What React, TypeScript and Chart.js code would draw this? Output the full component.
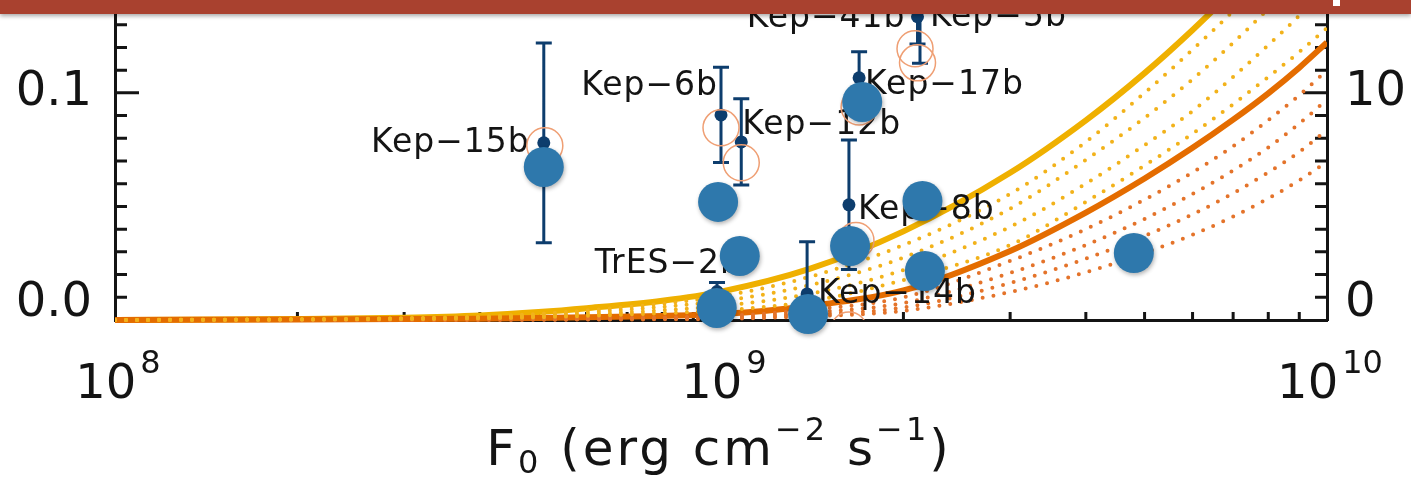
import React, { useEffect, useRef } from 'react';
import { Chart, registerables } from 'chart.js';

Chart.register(...registerables);

const FONT = '"DejaVu Sans", "Liberation Sans", sans-serif';
const INK = '#141414';
const NAVY = '#0d3d6d';
const BLUE = '#2e78ac';
const RING = '#ef9f74';
const YELLOW = '#efb000';
const YELLOW_DOT = '#f2b21a';
const ORANGE = '#e46c00';
const ORANGE_DOT = '#e4732a';

// ---- measured planets (navy points with error bars) ----
const PLANET_NAMES = ['Kep−15b', 'Kep−6b', 'Kep−12b', 'Kep−17b', 'Kep−41b', 'Kep−5b', 'Kep−8b', 'TrES−2b', 'Kep−14b'];
const PLANET_FLUX = [5.1e8, 1.0e9, 1.08e9, 1.69e9, 2.11e9, 2.13e9, 1.626e9, 0.985e9, 1.387e9];
const PLANET_AG = [0.078, 0.0903, 0.0784, 0.1066, 0.1335, 0.139, 0.0507, 0.0125, 0.0115];
const PLANET_ERR = [0.044, 0.021, 0.019, 0.0115, 0.012, 0.026, 0.0285, 0.004, 0.023];

// ---- model values (open orange rings) ----
const MODEL_FLUX = [5.12e8, 1.0e9, 1.08e9, 1.69e9, 2.09e9, 2.11e9, 1.67e9, 1.626e9];
const MODEL_AG = [0.0767, 0.0846, 0.0692, 0.0938, 0.1194, 0.1132, 0.035, -0.0044];

// ---- big blue points ----
const FIT_FLUX = [5.1e8, 9.89e8, 1.074e9, 1.71e9, 1.633e9, 0.984e9, 1.392e9, 2.15e9, 2.17e9, 4.8e9];
const FIT_AG = [0.0674, 0.052, 0.0282, 0.096, 0.0326, 0.0053, 0.0026, 0.0524, 0.0216, 0.0295];

// ---- model curves ----
const CURVE_FLUX = [1e8, 2e8, 3e8, 4e8, 5e8, 6e8, 8e8, 1e9, 1.4e9, 2e9, 3e9, 4e9, 5e9, 6e9, 7e9, 8e9, 9e9, 1e10];
const YELLOW_SOLID = [0, 0.0004, 0.001, 0.002, 0.0035, 0.0052, 0.0085, 0.0125, 0.0225, 0.039, 0.0648, 0.0879, 0.1087, 0.1277, 0.1451, 0.1613, 0.176, 0.19];
const YELLOW_DOT_1 = [0, 0.0003, 0.0008, 0.0015, 0.0027, 0.0042, 0.0072, 0.0104, 0.019, 0.033, 0.0555, 0.0784, 0.1, 0.119, 0.136, 0.152, 0.166, 0.18];
const YELLOW_DOT_2 = [0, 0.0003, 0.0007, 0.0012, 0.0021, 0.0034, 0.0058, 0.0083, 0.0153, 0.0275, 0.049, 0.0705, 0.089, 0.106, 0.122, 0.137, 0.15, 0.163];
const YELLOW_DOT_3 = [0, 0.0002, 0.0005, 0.0009, 0.0016, 0.0025, 0.0043, 0.0062, 0.0115, 0.022, 0.041, 0.06, 0.077, 0.092, 0.107, 0.121, 0.134, 0.147];
const YELLOW_DOT_4 = [0, 0.0002, 0.0004, 0.0007, 0.0012, 0.0018, 0.003, 0.0042, 0.0082, 0.0176, 0.033, 0.052, 0.068, 0.082, 0.095, 0.107, 0.118, 0.1286];
const ORANGE_SOLID = [0, 0.0002, 0.0004, 0.0006, 0.0009, 0.0012, 0.0018, 0.0026, 0.0062, 0.013, 0.0304, 0.0473, 0.0623, 0.0758, 0.0882, 0.0998, 0.1111, 0.1222];
const ORANGE_DOT_1 = [0, 0.0001, 0.0002, 0.0003, 0.0005, 0.0007, 0.0011, 0.0017, 0.0045, 0.01, 0.026, 0.04, 0.053, 0.065, 0.0765, 0.088, 0.099, 0.11];
const ORANGE_DOT_2 = [0, 0.0001, 0.0001, 0.0002, 0.0004, 0.0005, 0.0008, 0.0012, 0.0033, 0.0075, 0.0207, 0.033, 0.0445, 0.0555, 0.0658, 0.076, 0.0865, 0.097];
const ORANGE_DOT_3 = [0, 0, 0.0001, 0.0001, 0.0002, 0.0003, 0.0005, 0.0008, 0.0024, 0.0055, 0.0163, 0.027, 0.037, 0.0465, 0.0558, 0.065, 0.074, 0.0837];
const ORANGE_DOT_4 = [0, 0, 0, 0.0001, 0.0001, 0.0002, 0.0003, 0.0005, 0.0016, 0.004, 0.0123, 0.021, 0.0295, 0.0375, 0.0455, 0.0535, 0.0615, 0.0696];

// ---- ticks ----
const Y_TICKS = [0, 0.1];
const Y_TICK_LABELS = ['0.0', '0.1'];
const Y2_TICKS = [0, 10];
const Y2_TICK_LABELS = ['0', '10'];
const X_MAJOR = [1e8, 1e9, 1e10];
const X_TICK_BASE = ['10', '10', '10'];
const X_TICK_EXP = ['8', '9', '10'];
const X_TITLE: [string, string][] = [['F', 'main'], ['0', 'sub'], [' (erg cm', 'main'], ['−2', 'sup'], [' s', 'main'], ['−1', 'sup'], [')', 'main']];

// label placement relative to its point: dx, dy (px), alignment
const LABEL_LAYOUT: Record<string, [number, number, CanvasTextAlign]> = {
  'Kep−15b': [-14, -3, 'right'],
  'Kep−6b': [-3, -32, 'right'],
  'Kep−12b': [1, -20, 'left'],
  'Kep−17b': [6, 4, 'left'],
  'Kep−41b': [-12, -2, 'right'],
  'Kep−5b': [10, 10, 'left'],
  'Kep−8b': [9, 2, 'left'],
  'TrES−2b': [25, -31, 'right'],
  'Kep−14b': [11, -3, 'left'],
};

const pts = (xs: number[], ys: number[]) => xs.map((x, i) => ({ x, y: ys[i] }));

function drawTicks(chart: any) {
  const { ctx, chartArea: a, scales } = chart;
  const y = scales.y;
  const x = scales.x;
  ctx.save();
  ctx.strokeStyle = INK;
  ctx.lineWidth = 3;
  ctx.beginPath();
  for (let k = 1; k <= 14; k++) {
    const py = y.getPixelForValue(k / 100);
    const len = k % 10 === 0 ? 24 : 12;
    ctx.moveTo(a.left, py);
    ctx.lineTo(a.left + len, py);
    ctx.moveTo(a.right, py);
    ctx.lineTo(a.right - len, py);
  }
  for (let d = 8; d < 10; d++) {
    for (let m = 1; m <= 9; m++) {
      if (d === 8 && m === 1) continue;
      const px = x.getPixelForValue(m * Math.pow(10, d));
      const len = m === 1 ? 16 : 8;
      ctx.moveTo(px, a.bottom);
      ctx.lineTo(px, a.bottom - len);
    }
  }
  ctx.stroke();
  ctx.restore();
}

function drawLabelsAndBars(chart: any) {
  const { ctx, chartArea: a, scales } = chart;
  const x = scales.x;
  const y = scales.y;
  ctx.save();
  ctx.beginPath();
  ctx.rect(a.left, a.top, a.right - a.left, a.bottom - a.top);
  ctx.clip();
  ctx.fillStyle = INK;
  ctx.font = `33px ${FONT}`;
  (ctx as any).letterSpacing = '1px';
  ctx.textBaseline = 'alphabetic';
  PLANET_NAMES.forEach((name, i) => {
    const lay = LABEL_LAYOUT[name];
    const px = x.getPixelForValue(PLANET_FLUX[i]);
    const py = y.getPixelForValue(PLANET_AG[i]);
    ctx.textAlign = lay[2];
    ctx.fillText(name, px + lay[0], py + lay[1] + 12);
  });
  (ctx as any).letterSpacing = '0px';
  ctx.strokeStyle = NAVY;
  ctx.lineWidth = 3;
  ctx.beginPath();
  PLANET_FLUX.forEach((f, i) => {
    const px = x.getPixelForValue(f);
    const top = y.getPixelForValue(PLANET_AG[i] + PLANET_ERR[i]);
    const bot = y.getPixelForValue(PLANET_AG[i] - PLANET_ERR[i]);
    ctx.moveTo(px, top);
    ctx.lineTo(px, bot);
    ctx.moveTo(px - 8, top);
    ctx.lineTo(px + 8, top);
    ctx.moveTo(px - 8, bot);
    ctx.lineTo(px + 8, bot);
  });
  ctx.stroke();
  ctx.restore();
}

function drawXAxisText(chart: any) {
  const { ctx, chartArea: a, scales } = chart;
  const x = scales.x;
  ctx.save();
  ctx.fillStyle = INK;
  ctx.textBaseline = 'alphabetic';
  ctx.textAlign = 'left';
  X_MAJOR.forEach((v, i) => {
    const px = x.getPixelForValue(v) + 3;
    ctx.font = `48px ${FONT}`;
    const wb = ctx.measureText(X_TICK_BASE[i]).width;
    ctx.font = `32px ${FONT}`;
    const we = ctx.measureText(X_TICK_EXP[i]).width;
    const start = px - (wb + 4 + we) / 2;
    ctx.font = `48px ${FONT}`;
    ctx.fillText(X_TICK_BASE[i], start, a.bottom + 78);
    ctx.font = `32px ${FONT}`;
    ctx.fillText(X_TICK_EXP[i], start + wb + 4, a.bottom + 53);
  });
  (ctx as any).letterSpacing = '3px';
  const fontFor = (k: string) => (k === 'main' ? `50px ${FONT}` : `32px ${FONT}`);
  let total = 0;
  X_TITLE.forEach(([t, k]) => {
    ctx.font = fontFor(k);
    total += ctx.measureText(t).width;
  });
  let cx = (a.left + a.right) / 2 - total / 2 - 2;
  const base = a.bottom + 145;
  X_TITLE.forEach(([t, k]) => {
    ctx.font = fontFor(k);
    const dy = k === 'sub' ? 8 : k === 'sup' ? -25 : 0;
    ctx.fillText(t, cx, base + dy);
    cx += ctx.measureText(t).width;
  });
  ctx.restore();
}

const overlayPlugin = {
  id: 'overlay',
  beforeDatasetsDraw(chart: any) {
    drawTicks(chart);
  },
  beforeDatasetDraw(chart: any, args: any) {
    const ds = chart.data.datasets[args.index];
    if (ds.label === 'Planets') drawLabelsAndBars(chart);
    if (ds.label === 'Fit') {
      chart.ctx.save();
      chart.ctx.shadowColor = 'rgba(0,0,0,0.3)';
      chart.ctx.shadowBlur = 4;
      chart.ctx.shadowOffsetX = 1;
      chart.ctx.shadowOffsetY = 2;
    }
  },
  afterDatasetDraw(chart: any, args: any) {
    const ds = chart.data.datasets[args.index];
    if (ds.label === 'Fit') chart.ctx.restore();
  },
  afterDraw(chart: any) {
    drawXAxisText(chart);
  },
};

const noPad = (s: any) => {
  s.paddingTop = 0;
  s.paddingBottom = 0;
  s.paddingLeft = 0;
  s.paddingRight = 0;
};

export default function App() {
  const ref = useRef<HTMLCanvasElement>(null);

  useEffect(() => {
    if (!ref.current) return;
    const curveClip = { left: 0, top: 0, right: 0, bottom: 10 };
    const solid = (label: string, ys: number[], color: string, order: number) => ({
      label,
      data: pts(CURVE_FLUX, ys),
      showLine: true,
      borderColor: color,
      borderWidth: 6,
      pointRadius: 0,
      cubicInterpolationMode: 'monotone',
      clip: curveClip,
      order,
    });
    const dotted = (label: string, ys: number[], color: string, order: number) => ({
      label,
      data: pts(CURVE_FLUX, ys),
      showLine: true,
      borderColor: color,
      borderWidth: 4,
      borderDash: [0, 11],
      borderCapStyle: 'round',
      pointRadius: 0,
      cubicInterpolationMode: 'monotone',
      clip: curveClip,
      order,
    });

    const chart = new Chart(ref.current, {
      type: 'scatter',
      data: {
        datasets: [
          {
            label: 'Fit',
            data: pts(FIT_FLUX, FIT_AG),
            pointRadius: 20,
            pointBackgroundColor: BLUE,
            pointBorderWidth: 0,
            clip: false,
            order: 0,
          },
          {
            label: 'Model',
            data: pts(MODEL_FLUX, MODEL_AG),
            pointRadius: 18,
            pointBackgroundColor: 'rgba(0,0,0,0)',
            pointBorderColor: RING,
            pointBorderWidth: 1.5,
            clip: 0,
            order: 1,
          },
          {
            label: 'Planets',
            data: pts(PLANET_FLUX, PLANET_AG),
            pointRadius: 6.5,
            pointBackgroundColor: NAVY,
            pointBorderWidth: 0,
            clip: 0,
            order: 2,
          },
          dotted('Yellow dotted 1', YELLOW_DOT_1, YELLOW_DOT, 3),
          dotted('Yellow dotted 2', YELLOW_DOT_2, YELLOW_DOT, 4),
          dotted('Yellow dotted 3', YELLOW_DOT_3, YELLOW_DOT, 5),
          dotted('Yellow dotted 4', YELLOW_DOT_4, YELLOW_DOT, 6),
          dotted('Orange dotted 1', ORANGE_DOT_1, ORANGE_DOT, 7),
          dotted('Orange dotted 2', ORANGE_DOT_2, ORANGE_DOT, 8),
          dotted('Orange dotted 3', ORANGE_DOT_3, ORANGE_DOT, 9),
          dotted('Orange dotted 4', ORANGE_DOT_4, ORANGE_DOT, 10),
          solid('Orange', ORANGE_SOLID, ORANGE, 11),
          solid('Yellow', YELLOW_SOLID, YELLOW, 12),
        ] as any,
      },
      options: {
        responsive: false,
        animation: false,
        devicePixelRatio: 1,
        events: [],
        layout: { autoPadding: false, padding: { top: 2, left: 0, right: 0, bottom: 0 } },
        plugins: {
          legend: { display: false },
          tooltip: { enabled: false },
          title: { display: false },
        },
        scales: {
          x: {
            type: 'logarithmic',
            position: 'bottom',
            min: 1e8,
            max: 1e10,
            grid: { display: false, drawTicks: false },
            border: { display: true, color: INK, width: 3 },
            ticks: { display: false },
            afterFit: (s: any) => {
              s.height = 159;
              noPad(s);
            },
          },
          y: {
            type: 'linear',
            position: 'left',
            min: 0,
            max: 0.14,
            grid: { display: false, drawTicks: false },
            border: { display: true, color: INK, width: 3 },
            afterBuildTicks: (s: any) => {
              s.ticks = Y_TICKS.map((v) => ({ value: v }));
            },
            ticks: {
              color: INK,
              padding: 23,
              font: { family: FONT, size: 48, lineHeight: '32px' },
              callback: (v: any) => {
                const i = Y_TICKS.indexOf(v);
                const s = Y_TICK_LABELS[i];
                return v === 0 ? [s, ''] : s;
              },
            },
            afterFit: (s: any) => {
              s.width = 115;
              noPad(s);
            },
          },
          y2: {
            type: 'linear',
            position: 'right',
            min: 0,
            max: 14,
            grid: { display: false, drawTicks: false },
            border: { display: true, color: INK, width: 3 },
            afterBuildTicks: (s: any) => {
              s.ticks = Y2_TICKS.map((v) => ({ value: v }));
            },
            ticks: {
              color: INK,
              padding: 18,
              font: { family: FONT, size: 48, lineHeight: '32px' },
              callback: (v: any) => {
                const i = Y2_TICKS.indexOf(v);
                const s = Y2_TICK_LABELS[i];
                return v === 0 ? [s, ''] : s;
              },
            },
            afterFit: (s: any) => {
              s.width = 84;
              noPad(s);
            },
          },
        },
      } as any,
      plugins: [overlayPlugin],
    });
    return () => chart.destroy();
  }, []);

  return (
    <div
      style={{
        position: 'fixed',
        left: 0,
        top: 0,
        width: 1411,
        height: 479,
        background: '#ffffff',
        overflow: 'hidden',
      }}
    >
      <canvas
        ref={ref}
        width={1411}
        height={479}
        style={{ position: 'absolute', left: 0, top: 0, width: 1411, height: 479 }}
      />
      <div
        style={{
          position: 'absolute',
          left: 0,
          top: 0,
          width: 1411,
          height: 14,
          background: '#a9412f',
          boxShadow: '0 2px 4px rgba(0,0,0,0.35)',
        }}
      />
      <div
        style={{
          position: 'absolute',
          left: 1333,
          top: 0,
          width: 7,
          height: 6,
          background: '#ffffff',
        }}
      />
    </div>
  );
}
